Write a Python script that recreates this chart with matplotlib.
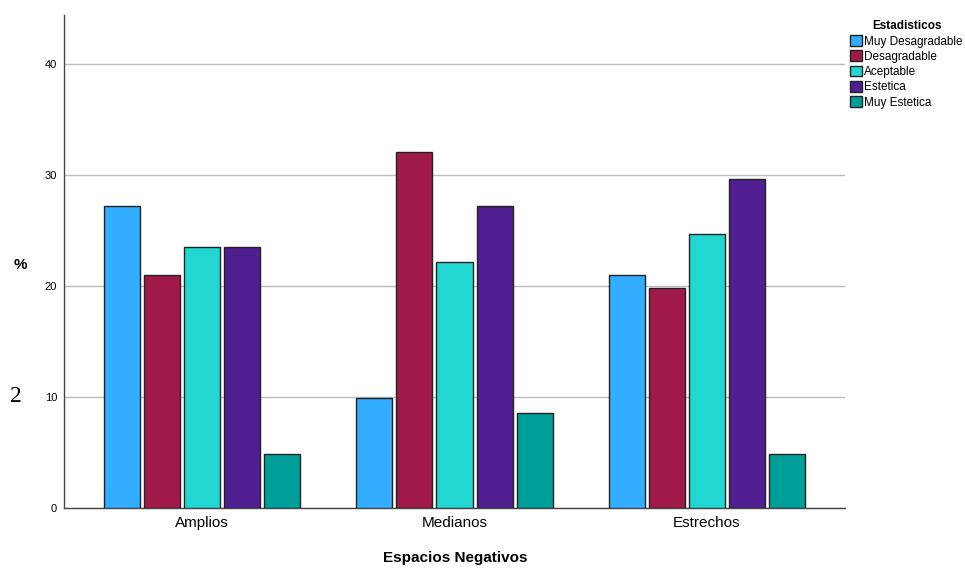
import numpy as np
import matplotlib
matplotlib.use("Agg")
import matplotlib.pyplot as plt

plt.rcParams['font.family'] = ['Liberation Sans', 'DejaVu Sans']

categories = ['Amplios', 'Medianos', 'Estrechos']
series = ['Muy Desagradable', 'Desagradable', 'Aceptable', 'Estetica', 'Muy Estetica']
colors = ['#33adff', '#a0194b', '#22d6d2', '#4f1f92', '#009e99']
values = {
    'Muy Desagradable': [27.2, 9.9, 21.0],
    'Desagradable': [21.0, 32.1, 19.8],
    'Aceptable': [23.5, 22.2, 24.7],
    'Estetica': [23.5, 27.2, 29.6],
    'Muy Estetica': [4.9, 8.6, 4.9],
}
yticks = [0, 10, 20, 30, 40]

fig = plt.figure(figsize=(9.65, 5.68), dpi=100)
ax = fig.add_axes([64 / 965, 1 - 508 / 568, (845 - 64) / 965, (508 - 15) / 568])

x = np.arange(len(categories))
step = 0.159
width = 0.143
for i, (name, color) in enumerate(zip(series, colors)):
    offset = (i - 2) * step
    ax.bar(x + offset, values[name], width, label=name, color=color,
           edgecolor='#222222', linewidth=1.0, zorder=3)

ax.set_xlim(-0.548, 2.548)
ax.set_ylim(0, 44.4)
ax.set_yticks(yticks)
ax.set_yticklabels([str(t) for t in yticks], fontsize=8)
ax.set_xticks(x)
ax.set_xticklabels(categories, fontsize=11)
ax.tick_params(axis='x', length=0, pad=6)
ax.tick_params(axis='y', length=0, pad=5)
ax.grid(True, axis='y', color='#bbbbbb', linewidth=1.0, zorder=0)
for s in ['top', 'right']:
    ax.spines[s].set_visible(False)
for s in ['left', 'bottom']:
    ax.spines[s].set_color('#444444')
    ax.spines[s].set_linewidth(1.0)

fig.text(20 / 965, 1 - 265 / 568, '%', fontsize=11, fontweight='bold', ha='center', va='center')
fig.text(16 / 965, 1 - 397 / 568, '2', fontsize=17, family='Liberation Serif', ha='center', va='center')
fig.text(455 / 965, 1 - 558 / 568, 'Espacios Negativos', fontsize=11, fontweight='bold', ha='center', va='center')

leg = fig.legend(loc='upper left', bbox_to_anchor=(842 / 965, 1 - 12 / 568), frameon=False,
                 fontsize=8.5, title='Estadisticos', title_fontproperties={'weight': 'bold', 'size': 8.5},
                 handlelength=1.0, handleheight=1.0, handletextpad=0.2, labelspacing=0.25,
                 borderpad=0.2)

fig.savefig('out.png', dpi=100)
